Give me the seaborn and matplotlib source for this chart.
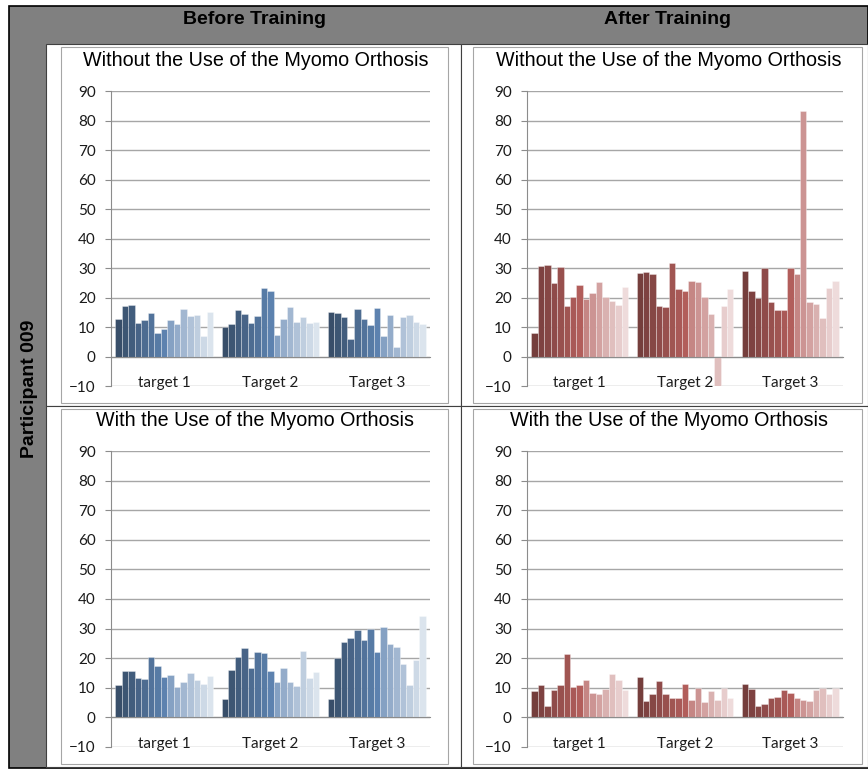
import numpy as np
import pandas as pd
import matplotlib.pyplot as plt
import matplotlib.patches as mpatches
from matplotlib.colors import to_rgb
import seaborn as sns

W, H = 868, 774

targets = ["target 1", "Target 2", "Target 3"]
trials = [str(i) for i in range(1, 16)]

# before training, without orthosis
bw_t1 = [12.7, 17.2, 17.6, 11.3, 12.4, 14.8, 7.9, 9.3, 12.4, 10.9, 16.2, 13.6, 14.1, 6.8, 15.2]
bw_t2 = [10.0, 10.9, 15.7, 14.3, 11.2, 13.6, 23.3, 22.3, 7.2, 12.7, 16.7, 11.8, 13.5, 11.2, 11.7]
bw_t3 = [15.0, 14.9, 13.5, 5.8, 16.2, 12.6, 10.7, 16.6, 6.8, 14.1, 3.3, 13.4, 14.0, 11.6, 10.9]

# before training, with orthosis
bo_t1 = [11.0, 15.7, 15.8, 13.3, 13.1, 20.3, 17.3, 13.6, 14.3, 10.2, 11.9, 14.9, 12.5, 11.4, 14.0]
bo_t2 = [6.3, 16.0, 20.3, 23.4, 16.6, 22.0, 21.9, 15.7, 11.9, 16.7, 11.9, 10.5, 22.3, 13.4, 15.2]
bo_t3 = [6.1, 20.2, 25.5, 26.9, 29.5, 26.2, 29.8, 22.2, 30.5, 24.9, 23.9, 18.1, 11.0, 19.3, 34.1]

# after training, without orthosis
aw_t1 = [8.0, 30.7, 30.9, 24.8, 30.2, 17.2, 20.3, 24.2, 19.5, 21.5, 25.4, 20.1, 18.8, 17.5, 23.4]
aw_t2 = [28.2, 28.7, 27.8, 17.1, 16.8, 31.7, 22.9, 22.1, 25.7, 25.3, 20.1, 14.5, -10.7, 17.2, 22.8]
aw_t3 = [28.9, 22.2, 20.0, 30.1, 18.4, 15.8, 15.9, 30.0, 28.1, 83.3, 18.5, 17.7, 12.9, 23.1, 25.6]

# after training, with orthosis
ao_t1 = [8.9, 10.9, 4.0, 9.4, 10.9, 21.3, 10.2, 10.8, 12.6, 8.1, 7.8, 9.7, 14.5, 12.7, 9.2]
ao_t2 = [13.5, 5.6, 7.8, 12.2, 7.8, 6.5, 6.5, 11.3, 5.8, 10.0, 5.1, 9.0, 5.9, 9.8, 6.5]
ao_t3 = [11.3, 9.5, 3.9, 4.4, 6.7, 6.9, 9.2, 8.2, 6.6, 6.0, 5.6, 9.2, 10.0, 8.0, 9.8]


def make_palette(base, dark=0.6, n_dark=8, tint_lo=0.25, tint_hi=0.78, n_light=7):
    base = np.array(to_rgb(base))
    cols = [tuple(base * f) for f in np.linspace(dark, 1.0, n_dark)]
    cols += [tuple(base + (1 - base) * t) for t in np.linspace(tint_lo, tint_hi, n_light)]
    return cols


blues = make_palette("#4F81BD", dark=0.6)
reds = make_palette("#C0504D", dark=0.66)


def to_frame(t1, t2, t3):
    rows = []
    for tgt, vals in zip(targets, [t1, t2, t3]):
        for tr, v in zip(trials, vals):
            rows.append({"target": tgt, "trial": tr, "value": v})
    return pd.DataFrame(rows)


def fx(px):
    return px / W


def fy(py):
    return 1 - py / H


sns.set_style("white")
plt.rcParams["font.family"] = ["Liberation Sans", "DejaVu Sans"]
plt.rcParams["text.color"] = "black"

fig = plt.figure(figsize=(W / 100, H / 100), dpi=100)
fig.patch.set_facecolor("white")

# outer gray table frame
fig.patches.append(mpatches.Rectangle((fx(9), fy(768)), fx(W - 9), 762 / H,
                                      transform=fig.transFigure, facecolor="#808080",
                                      edgecolor="black", lw=1.2, zorder=0))

# white cells
cells = [(46, 44, 461, 406), (461, 44, 868, 406), (46, 406, 461, 767), (461, 406, 868, 767)]
for (l, t, r, b) in cells:
    fig.patches.append(mpatches.Rectangle((fx(l), fy(b)), fx(r - l), (b - t) / H,
                                          transform=fig.transFigure, facecolor="white",
                                          edgecolor="#404040", lw=0.8, zorder=0.5))

# chart area borders
charts = [(61, 47, 448, 403), (473, 47, 862, 403), (61, 409, 448, 764), (473, 409, 862, 764)]
for (l, t, r, b) in charts:
    fig.patches.append(mpatches.Rectangle((fx(l), fy(b)), fx(r - l), (b - t) / H,
                                          transform=fig.transFigure, facecolor="none",
                                          edgecolor="#A6A6A6", lw=0.8, zorder=0.6))

fig.text(fx(255), fy(19), "Before Training", ha="center", va="center",
         fontsize=14, fontweight="bold")
fig.text(fx(668), fy(19), "After Training", ha="center", va="center",
         fontsize=14, fontweight="bold")
fig.text(fx(29), fy(389), "Participant 009", ha="center", va="center",
         rotation=90, fontsize=14, fontweight="bold")

panels = [
    ((111, 91, 430, 386), to_frame(bw_t1, bw_t2, bw_t3), blues,
     "Without the Use of the Myomo Orthosis", (256, 60)),
    ((527, 91, 843, 386), to_frame(aw_t1, aw_t2, aw_t3), reds,
     "Without the Use of the Myomo Orthosis", (669, 60)),
    ((111, 451, 430, 747), to_frame(bo_t1, bo_t2, bo_t3), blues,
     "With the Use of the Myomo Orthosis", (255, 420)),
    ((527, 451, 843, 747), to_frame(ao_t1, ao_t2, ao_t3), reds,
     "With the Use of the Myomo Orthosis", (669, 420)),
]

for (l, t, r, b), df, pal, title, (tx, ty) in panels:
    ax = fig.add_axes([fx(l), fy(b), fx(r - l), (b - t) / H])
    ax.set_zorder(5)
    ax.set_facecolor("none")
    sns.barplot(data=df, x="target", y="value", hue="trial", hue_order=trials,
                order=targets, palette=pal, errorbar=None, width=0.92,
                edgecolor=(1, 1, 1, 0.45), linewidth=0.5, legend=False, ax=ax, zorder=3)
    ax.set_xlim(-0.5, 2.5)
    ax.set_ylim(-10, 90)
    ax.set_yticks(np.arange(-10, 91, 10))
    ax.yaxis.grid(True, color="#A6A6A6", lw=1)
    ax.set_axisbelow(True)
    ax.set_xlabel("")
    ax.set_ylabel("")
    for s in ["top", "right"]:
        ax.spines[s].set_visible(False)
    ax.spines["left"].set_color("#8C8C8C")
    ax.spines["bottom"].set_color("#8C8C8C")
    ax.spines["bottom"].set_position(("data", 0))
    ax.spines["bottom"].set_zorder(4)
    ax.set_xticks([0, 1, 2])
    ax.set_xticklabels(targets)
    ax.set_xticks([-0.5, 0.5, 1.5, 2.5], minor=True)
    ax.tick_params(axis="x", which="major", length=0, pad=14)
    ax.tick_params(axis="x", which="minor", length=5, color="#8C8C8C", direction="out")
    ax.tick_params(axis="y", length=4, color="#8C8C8C", direction="out", pad=7, left=True)
    for lab in ax.get_xticklabels() + ax.get_yticklabels():
        lab.set_family(["Lato", "DejaVu Sans"])
        lab.set_fontsize(11)
        lab.set_color("#1A1A1A")
    fig.text(fx(tx), fy(ty), title, ha="center", va="center", fontsize=14.2)

fig.savefig("out.png", dpi=100)
